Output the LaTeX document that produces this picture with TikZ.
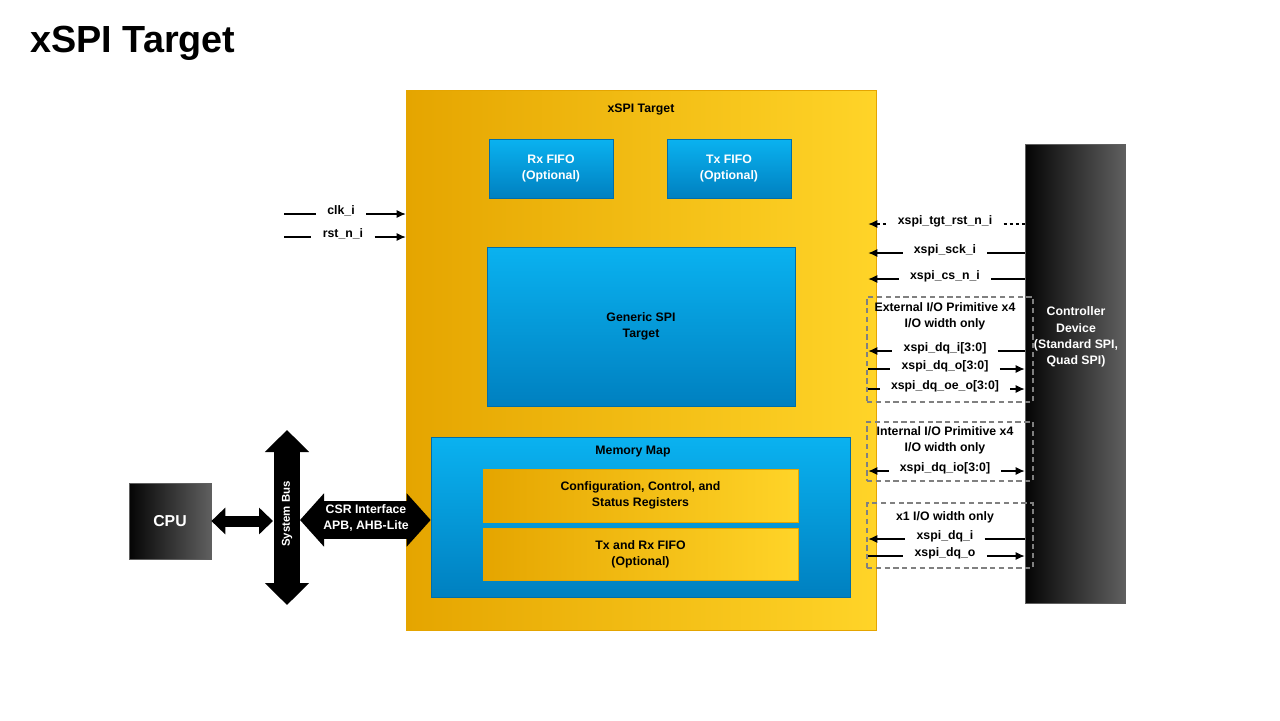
\documentclass[tikz,border=0pt]{standalone}
\usepackage{fontspec}
\setmainfont{Liberation Sans}
\usetikzlibrary{arrows.meta,
                positioning}
\definecolor{gold_l}{RGB}{229,165,0}
\definecolor{gold_r}{RGB}{255,212,40}
\definecolor{blue_t}{RGB}{10,178,240}
\definecolor{blue_b}{RGB}{0,128,192}
\definecolor{blue_e}{RGB}{0,110,170}
\definecolor{dark_l}{RGB}{5,5,5}
\definecolor{dark_r}{RGB}{95,95,95}
\definecolor{dash_c}{RGB}{128,128,128}

\begin{document}
\begin{tikzpicture}[
	x=0.02cm, y=-0.02cm,
	every node/.style = {font=\fontsize{7}{9.2}\selectfont\bfseries, align=center, inner sep=0pt},
	goldbox/.style = {rectangle, draw=gold_l, left color=gold_l, right color=gold_r},
	bluebox/.style = {rectangle, draw=blue_e, top color=blue_t, bottom color=blue_b, text=white},
	darkbox/.style = {rectangle, draw=dark_r, left color=dark_l, right color=dark_r, text=white},
	iobox/.style = {rectangle, draw=dash_c, line width=1.1pt, dash pattern=on 3pt off 2pt},
	siglbl/.style = {anchor=base, inner xsep=0.22cm},
	sig/.style = {line width=0.6pt, >={Latex[length=0.18cm,width=0.16cm]}},
	busarrow/.style n args = {3}{line width=#1, >={Triangle[length=#2,width=#3]}, <->},
	]
	\useasboundingbox (0,0) rectangle (1280,720);
	\node[anchor=base west, font=\fontsize{21.5}{25}\selectfont\bfseries] (title) at (30,52) {xSPI Target};
	% target block
	\node[goldbox, minimum width=9.4cm, minimum height=10.8cm] (tgt) at (641,360) {};
	\node (tgtlbl) at (641,110) {xSPI Target};
	\node[bluebox, minimum width=2.48cm, minimum height=1.18cm] (rxfifo) at (551,168.5) {Rx FIFO\\(Optional)};
	\node[bluebox, minimum width=2.48cm, minimum height=1.18cm] (txfifo) at (729,168.5) {Tx FIFO\\(Optional)};
	\node[bluebox, text=black, minimum width=6.16cm, minimum height=3.18cm] (spi) at (641,326.5) {Generic SPI\\Target};
	\node[bluebox, minimum width=8.38cm, minimum height=3.2cm] (memmap) at (640.5,517) {};
	\node (memlbl) at (633,452) {Memory Map};
	\node[goldbox, minimum width=6.3cm, minimum height=1.06cm] (csrregs) at (640.5,495.5) {Configuration, Control, and\\Status Registers};
	\node[goldbox, minimum width=6.3cm, minimum height=1.04cm] (fiforegs) at (640.5,554) {Tx and Rx FIFO\\(Optional)};
	% controller and cpu
	\node[darkbox, minimum width=2cm, minimum height=9.18cm] (ctrl) at (1075,373.5) {};
	\node[text=white] (ctrllbl) at (1076,337) {Controller\\Device\\(Standard SPI,\\Quad SPI)};
	\node[darkbox, minimum width=1.64cm, minimum height=1.52cm, font=\fontsize{9}{11}\selectfont\bfseries] (cpu) at (170,521) {CPU};
	% io groups
	\node[iobox, minimum width=3.32cm, minimum height=2.1cm] (extio) at (950,349.5) {};
	\node (extlbl) at (945,316) {External I/O Primitive x4\\I/O width only};
	\node[iobox, minimum width=3.32cm, minimum height=1.18cm] (intio) at (950,451.5) {};
	\node (intlbl) at (945,440) {Internal I/O Primitive x4\\I/O width only};
	\node[iobox, minimum width=3.32cm, minimum height=1.3cm] (x1io) at (950,535.5) {};
	\node (x1lbl) at (945,517) {x1 I/O width only};
	% clock and reset
	\coordinate (clkin) at (284,214);
	\coordinate (rstin) at (284,237);
	\node[siglbl] (clk) at (341,214) {clk\_i};
	\node[siglbl] (rst) at (343,237) {rst\_n\_i};
	\draw[sig] (clkin) -- (clk.base west);
	\draw[sig,->] (clk.base east) -- (tgt.west |- clk.base);
	\draw[sig] (rstin) -- (rst.base west);
	\draw[sig,->] (rst.base east) -- (tgt.west |- rst.base);
	% controller signals
	\coordinate (tgtR) at ([xshift=-0.16cm]tgt.east);
	\node[siglbl] (tgtrst) at (945,224) {xspi\_tgt\_rst\_n\_i};
	\node[siglbl] (sck) at (945,253) {xspi\_sck\_i};
	\node[siglbl] (csn) at (945,279) {xspi\_cs\_n\_i};
	\node[siglbl] (dqi4) at (945,351) {xspi\_dq\_i[3:0]};
	\node[siglbl] (dqo4) at (945,369) {xspi\_dq\_o[3:0]};
	\node[siglbl] (dqoe) at (945,389) {xspi\_dq\_oe\_o[3:0]};
	\node[siglbl] (dqio) at (945,471) {xspi\_dq\_io[3:0]};
	\node[siglbl] (dqi) at (945,539) {xspi\_dq\_i};
	\node[siglbl] (dqo) at (945,556) {xspi\_dq\_o};
	\draw[sig,<-,dash pattern=on 2pt off 1.5pt] (tgtR |- tgtrst.base) -- (tgtrst.base west);
	\draw[sig,dash pattern=on 2pt off 1.5pt] (tgtrst.base east) -- (ctrl.west |- tgtrst.base);
	\draw[sig,<-] (tgtR |- sck.base) -- (sck.base west);
	\draw[sig] (sck.base east) -- (ctrl.west |- sck.base);
	\draw[sig,<-] (tgtR |- csn.base) -- (csn.base west);
	\draw[sig] (csn.base east) -- (ctrl.west |- csn.base);
	\draw[sig,<-] (tgtR |- dqi4.base) -- (dqi4.base west);
	\draw[sig] (dqi4.base east) -- (ctrl.west |- dqi4.base);
	\draw[sig] (tgtR |- dqo4.base) -- (dqo4.base west);
	\draw[sig,->] (dqo4.base east) -- (ctrl.west |- dqo4.base);
	\draw[sig] (tgtR |- dqoe.base) -- (dqoe.base west);
	\draw[sig,->] (dqoe.base east) -- (ctrl.west |- dqoe.base);
	\draw[sig,<-] (tgtR |- dqio.base) -- (dqio.base west);
	\draw[sig,->] (dqio.base east) -- (ctrl.west |- dqio.base);
	\draw[sig,<-] (tgtR |- dqi.base) -- (dqi.base west);
	\draw[sig] (dqi.base east) -- (ctrl.west |- dqi.base);
	\draw[sig] (tgtR |- dqo.base) -- (dqo.base west);
	\draw[sig,->] (dqo.base east) -- (ctrl.west |- dqo.base);
	% system bus
	\coordinate (bustop) at (287,430);
	\coordinate (busbot) at (287,605);
	\coordinate (busL) at (273,521);
	\coordinate (busR) at (300,520);
	\draw[busarrow={0.52cm}{0.44cm}{0.86cm}] (busbot) -- (bustop);
	\draw[busarrow={0.22cm}{0.28cm}{0.52cm}] (cpu.east) -- (busL);
	\draw[busarrow={0.76cm}{0.48cm}{1.04cm}] (busR) -- (memmap.west |- busR);
	\node[text=white, rotate=90, font=\fontsize{6.5}{8}\selectfont\bfseries] (sysbus) at (287,514) {System Bus};
	\node[text=white] (csr) at (366,518) {CSR Interface\\APB, AHB-Lite};
\end{tikzpicture}
\end{document}
